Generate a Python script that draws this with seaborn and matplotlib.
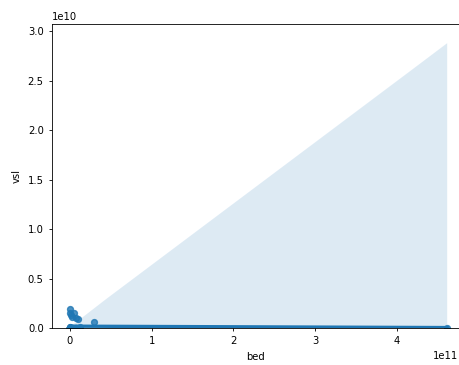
import matplotlib
matplotlib.use("Agg")
import matplotlib.pyplot as plt
import seaborn as sns
import numpy as np
import pandas as pd

# data; many small values sit hidden under the fit line
bed = [0.0, 0.0, 0.0, 0.4e9, 1.0e9, 2.0e9, 5.0e9, 8.0e9, 1.0e10, 1.2e10, 2.9e10, 4.62e11,
       0.0, 0.0, 0.0, 0.0, 0.0, 0.0, 0.0, 0.0, 0.0, 0.0,
       0.1e9, 0.1e9, 0.2e9, 0.2e9, 0.3e9, 0.3e9, 0.5e9, 0.5e9, 0.6e9, 0.8e9,
       0.0, 0.0, 0.0, 0.0, 0.0, 0.2e10, 0.4e10, 0.6e10, 0.8e10, 0.7e10,
       0.1e9, 0.2e9, 0.3e9, 0.4e9, 0.5e9, 0.7e9, 0.9e9, 1.1e9, 1.5e9, 3.0e9]
vsl = [1.9e9, 0.1e9, 0.02e9, 1.5e9, 1.3e9, 1.1e9, 1.5e9, 1.0e9, 0.9e9, 0.1e9, 0.6e9, 0.0,
       0.0, 0.0, 0.0, 0.0, 0.0, 0.0, 0.0, 0.0, 0.0, 0.0,
       0.01e9, 0.0, 0.02e9, 0.0, 0.01e9, 0.0, 0.02e9, 0.0, 0.01e9, 0.0,
       0.0, 0.0, 0.0, 0.0, 0.0, 0.0, 0.0, 0.0, 0.0, 0.0,
       0.0, 0.01e9, 0.0, 0.0, 0.01e9, 0.0, 0.0, 0.01e9, 0.0, 0.02e9]

df = pd.DataFrame({"bed": bed, "vsl": vsl})

plt.rcParams.update({
    "font.size": 7.2,
    "axes.linewidth": 0.6,
    "xtick.major.width": 0.6,
    "ytick.major.width": 0.6,
    "xtick.major.size": 2.5,
    "ytick.major.size": 2.5,
})

fig, ax = plt.subplots(figsize=(4.6, 3.65), dpi=100)
fig.subplots_adjust(left=0.113, right=0.997, top=0.934, bottom=0.101)
sns.regplot(data=df, x="bed", y="vsl", ax=ax, seed=3,
            scatter_kws={"s": 18}, line_kws={"lw": 2.4})
ax.set_xlim(-0.22e11, 4.76e11)
ax.set_ylim(0, 3.07e10)
fig.savefig("out.png", dpi=100)
